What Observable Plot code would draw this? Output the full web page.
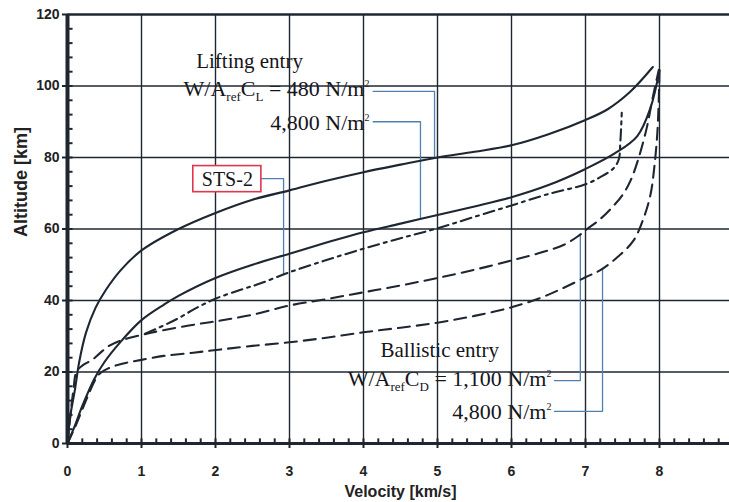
<!DOCTYPE html>
<html>
<head>
<meta charset="utf-8">
<script src="https://cdn.jsdelivr.net/npm/d3@7"></script>
<script src="https://cdn.jsdelivr.net/npm/@observablehq/plot@0.6"></script>
<style>
  html, body { margin: 0; padding: 0; background: #fff; overflow: hidden; }
  #chart svg { max-width: none !important; }
</style>
</head>
<body>
<div id="chart"></div>
<script>
// ---- data (velocity km/s, altitude km) ----
const lifting480 = [[0,0],[0.04,8],[0.1,15],[0.16,23],[0.25,31],[0.38,38],[0.52,43],[0.72,48.5],[1,54],[1.5,60],[2,64.5],[2.5,68.2],[3,70.8],[3.5,73.5],[4,75.9],[4.5,78],[5,80],[5.5,81.6],[6,83.4],[6.5,86.5],[7,90.5],[7.3,93.5],[7.6,98.3],[7.91,105.3]];
const lifting4800 = [[0,0],[0.1,5],[0.2,10.5],[0.36,18],[0.5,22.8],[0.72,28.5],[1,34.5],[1.3,38.8],[1.5,41.3],[2,46.3],[2.5,50],[3,53.1],[3.5,56.2],[4,59.1],[4.5,61.5],[5,63.9],[5.5,66.3],[6,68.9],[6.5,72.3],[7,76.8],[7.4,81.2],[7.7,86],[7.88,94],[8,104.5]];
const sts2 = [[1.05,30.7],[1.44,34.4],[1.75,38],[2,40.5],[2.34,43],[2.61,44.8],[3,47.9],[3.5,51.3],[4,54.5],[4.5,57.4],[5,60.2],[5.5,63.4],[6,66.6],[6.5,69.8],[7,72.5],[7.2,74.5],[7.38,77],[7.45,79.5],[7.47,84],[7.49,92.5]];
const ballistic1100 = [[0,0],[0.04,8],[0.08,15],[0.12,20],[0.2,21.8],[0.34,23.5],[0.45,25.5],[0.56,27.3],[0.72,28.8],[0.97,30.2],[1.13,31],[1.64,33],[2.07,34.4],[2.5,36],[3,38.6],[3.5,40.4],[4,42.3],[4.5,44.2],[5,46.3],[5.5,48.6],[6,51.2],[6.4,53.4],[6.71,55.6],[6.9,58],[7.01,59.8],[7.2,62.8],[7.38,66.5],[7.5,69.5],[7.61,73.6],[7.72,80],[7.83,88.5],[7.9,95.9],[7.99,104.5]];
const ballistic4800 = [[0,0],[0.1,4.5],[0.2,9.5],[0.3,14.5],[0.38,18],[0.45,19.8],[0.55,21],[0.65,21.8],[0.8,22.6],[1,23.4],[1.3,24.5],[1.7,25.4],[2.07,26.3],[2.5,27.3],[3,28.3],[3.5,29.6],[4,31.1],[4.5,32.4],[5,33.8],[5.5,35.7],[6,38.1],[6.4,40.8],[6.7,43.5],[7,46.5],[7.2,48.5],[7.43,52.1],[7.65,56.8],[7.79,63.3],[7.88,69.8],[7.93,77.3],[7.97,86.6],[7.99,96],[8,104.5]];

// ---- axes ----
const xTicks = [0,1,2,3,4,5,6,7,8,9];
const yTicks = [0,20,40,60,80,100,120];
const xGrid = [1,2,3,4,5,6,7,8];
const yGrid = [20,40,60,80,100];
const xMinor = d3.range(1, 45).map(i => i / 5);
const yMinor = d3.range(1, 30).map(i => i * 4);
const xTitle = "Velocity [km/s]";
const yTitle = "Altitude [km]";

// ---- annotations ----
const annText = ["Lifting entry", "W/A{ref}C{L} = 480 N/m^2", "4,800 N/m^2", "Ballistic entry", "W/A{ref}C{D} = 1,100 N/m^2", "4,800 N/m^2"];
const annX = [2.46, 4.08, 4.08, 5.03, 6.54, 6.54];
const annY = [104.9, 97.3, 87.6, 24.1, 16.2, 6.9];
const annAnchor = ["middle", "end", "end", "middle", "end", "end"];
const leader480 = [[4.13,98.5],[4.96,98.5],[4.96,80]];
const leader4800L = [[4.13,90],[4.77,90],[4.77,63.2]];
const leaderSTS = [[2.62,74.1],[2.92,74.1],[2.92,47.5]];
const leader1100 = [[6.58,17.6],[6.93,17.6],[6.93,58.5]];
const leader4800B = [[6.58,9],[7.23,9],[7.23,48.7]];
const stsLabel = "STS-2";
const stsBox = [{x1: 1.70, x2: 2.62, y1: 70.3, y2: 77.6}];

const ink = "#1e2731";
const serif = "Liberation Serif, DejaVu Serif, serif";
const leaderColor = "#4f80b2";

const annData = annText.map((t, i) => ({t, x: annX[i], y: annY[i], a: annAnchor[i]}));
const curve = (data, dash) => Plot.line(data, {x: d => d[0], y: d => d[1], stroke: ink, strokeWidth: 2.1, strokeDasharray: dash, curve: "catmull-rom"});
const leader = (data) => Plot.line(data, {x: d => d[0], y: d => d[1], stroke: leaderColor, strokeWidth: 1.3});

const plot = Plot.plot({
  width: 745,
  height: 502,
  marginLeft: 67,
  marginRight: 12,
  marginTop: 14,
  marginBottom: 59,
  x: {domain: [0, 9]},
  y: {domain: [0, 120]},
  style: {fontFamily: "Liberation Sans, Arial, sans-serif", fontSize: "14px", fontWeight: "bold", color: "#222", background: "#fff"},
  marks: [
    Plot.text(annData.filter(d => d.a === "middle"), {x: "x", y: "y", text: "t", textAnchor: "middle", lineAnchor: "bottom", fontFamily: serif, fontWeight: "normal", fontSize: 21, fill: "#15151c"}),
    Plot.text(annData.filter(d => d.a === "end"), {x: "x", y: "y", text: "t", textAnchor: "end", lineAnchor: "bottom", fontFamily: serif, fontWeight: "normal", fontSize: 22, fill: "#15151c"}),
    Plot.ruleX(xGrid, {stroke: ink, strokeWidth: 1.4}),
    Plot.ruleY(yGrid, {stroke: ink, strokeWidth: 1.4}),
    Plot.ruleX(xMinor, {y1: 0, y2: 1.3, stroke: ink, strokeWidth: 2}),
    Plot.ruleY(yMinor, {x1: 0, x2: 0.075, stroke: ink, strokeWidth: 2}),
    Plot.ruleY([120], {stroke: ink, strokeWidth: 2.6}),
    Plot.ruleY([0], {stroke: ink, strokeWidth: 3.2}),
    Plot.ruleX([0], {stroke: ink, strokeWidth: 4}),
    Plot.ruleX([9], {stroke: ink, strokeWidth: 2.6}),
    Plot.axisX({ticks: xTicks, tickSize: 5, tickPadding: 18, label: null, strokeWidth: 2}),
    Plot.axisY({ticks: yTicks, tickSize: 5, tickPadding: 3, label: null, strokeWidth: 2}),
    Plot.text([xTitle], {frameAnchor: "bottom", dy: 53, lineAnchor: "bottom", fontSize: 16, fontWeight: "bold", fill: "#222"}),
    Plot.text([yTitle], {frameAnchor: "left", dx: -46, dy: 8, rotate: -90, fontSize: 18, fontWeight: "bold", fill: "#222"}),
    leader(leader480),
    leader(leader4800L),
    leader(leaderSTS),
    leader(leader1100),
    leader(leader4800B),
    curve(lifting480, null),
    curve(lifting4800, null),
    curve(sts2, "11,5,3,5"),
    curve(ballistic1100, "12,7"),
    curve(ballistic4800, "12,7"),
    Plot.rect(stsBox, {x1: "x1", x2: "x2", y1: "y1", y2: "y2", fill: "#fff", stroke: "#e0364f", strokeWidth: 1.6}),
    Plot.text([stsLabel], {x: (stsBox[0].x1 + stsBox[0].x2) / 2, y: (stsBox[0].y1 + stsBox[0].y2) / 2, fontFamily: serif, fontWeight: "normal", fontSize: 20, fill: "#15151c"})
  ]
});
plot.style.maxWidth = "none";

// sub/superscripts: {..} = subscript, ^x = superscript
const NS = "http://www.w3.org/2000/svg";
d3.select(plot).selectAll("text").each(function () {
  const raw = this.textContent;
  if (!/[{^]/.test(raw)) return;
  while (this.firstChild) this.removeChild(this.firstChild);
  const re = /\{([^}]*)\}|\^(\S)|([^{^]+)/g;
  let cur = 0, m;
  while ((m = re.exec(raw))) {
    let txt, target, size = null;
    if (m[1] !== undefined) { txt = m[1]; target = 5; size = 13; }
    else if (m[2] !== undefined) { txt = m[2]; target = -9; size = 10; }
    else { txt = m[3]; target = 0; }
    const ts = document.createElementNS(NS, "tspan");
    ts.textContent = txt;
    if (target !== cur) ts.setAttribute("dy", target - cur);
    if (size) ts.setAttribute("font-size", size);
    cur = target;
    this.appendChild(ts);
  }
});

document.getElementById("chart").appendChild(plot);
</script>
</body>
</html>
